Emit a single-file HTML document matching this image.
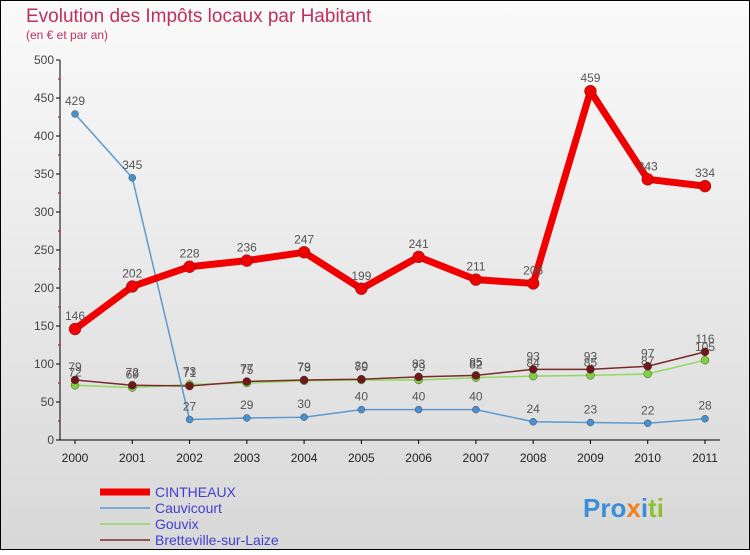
<!DOCTYPE html>
<html><head><meta charset="utf-8"><style>
body{margin:0}
#c{width:750px;height:550px;position:relative;font-family:"Liberation Sans",sans-serif;}
</style></head><body>
<div id="c">
<svg id="s" width="750" height="550" xmlns="http://www.w3.org/2000/svg">
<defs><linearGradient id="bg" x1="0" y1="0" x2="0" y2="1"><stop offset="0" stop-color="#fafafa"/><stop offset="1" stop-color="#d8d8d8"/></linearGradient></defs>
<rect x="0.5" y="0.5" width="749" height="549" fill="url(#bg)" stroke="#000"/>
<text x="26" y="22" font-size="19" fill="#c0305a">Evolution des Impôts locaux par Habitant</text>
<text x="26" y="39" font-size="12" fill="#c0305a">(en € et par an)</text>
<g id="axes"></g><g id="series"></g><g id="legend"></g>
<text x="583" y="517" font-size="26" font-weight="bold" fill="#3a8fd8">Pro<tspan fill="#f08020">x</tspan><tspan fill="#3a8fd8">i</tspan><tspan fill="#90c030">ti</tspan></text>
</svg></div>
<script>
const years=["2000","2001","2002","2003","2004","2005","2006","2007","2008","2009","2010","2011"];
const yTicks=[0,50,100,150,200,250,300,350,400,450,500];
const cintheaux=[146,202,228,236,247,199,241,211,206,459,343,334];
const cauvicourt=[429,345,27,29,30,40,40,40,24,23,22,28];
const gouvix=[72,69,73,75,78,79,79,82,84,85,87,105];
const bretteville=[79,72,71,77,79,80,83,85,93,93,97,116];
const names=["CINTHEAUX","Cauvicourt","Gouvix","Bretteville-sur-Laize"];
const NS="http://www.w3.org/2000/svg";
const x=i=>75+i*(630/11), y=v=>440-v*0.76;
function mk(t,a,p){const e=document.createElementNS(NS,t);for(const k in a)e.setAttribute(k,a[k]);p.appendChild(e);return e;}
const ax=document.getElementById('axes');
const yl=mk('line',{x1:60,y1:60,x2:60,y2:440,stroke:'#000'},ax);


const xl=mk('line',{x1:60,y1:440,x2:720,y2:440,stroke:'#000'},ax);


yTicks.forEach(v=>{mk('line',{x1:56,y1:y(v),x2:60,y2:y(v),stroke:'#000'},ax);
const t=mk('text',{x:54,y:y(v)+4,'font-size':12,fill:'#444','text-anchor':'end'},ax);t.textContent=v;


if(v<500)mk('line',{x1:58,y1:y(v+25),x2:60,y2:y(v+25),stroke:'#c00'},ax);});
years.forEach((yr,i)=>{mk('line',{x1:x(i),y1:440,x2:x(i),y2:444,stroke:'#000'},ax);
const t=mk('text',{x:x(i),y:462,'font-size':12,fill:'#222','text-anchor':'middle'},ax);t.textContent=yr;

});
const se=document.getElementById('series');
function draw(d,col,w,r,dot,nm){const g=mk('g',{},se);


mk('polyline',{points:d.map((v,i)=>x(i)+','+y(v)).join(' '),fill:'none',stroke:col,'stroke-width':w,'stroke-linejoin':'round'},g);
d.forEach((v,i)=>{const c=mk('circle',{cx:x(i),cy:y(v),r:r,fill:dot,stroke:'#333','stroke-width':0.4},g);


const t=mk('text',{x:x(i),y:y(v)-9,'font-size':12,fill:'#555','text-anchor':'middle'},g);t.textContent=v;});}
draw(gouvix,'#90d860',1.5,4,'#80d040','series-gouvix');
draw(bretteville,'#7a2a2a',1.5,4,'#701818','series-bretteville');
draw(cauvicourt,'#5a9ad0',1.5,3.5,'#4a90d0','series-cauvicourt');
draw(cintheaux,'#f00000',7,6,'#f00000','series-cintheaux');
const lg=document.getElementById('legend');
const cols=['#f00000','#5a9ad0','#90d860','#7a2a2a'],ws=[7,1.5,1.5,1.5];
names.forEach((n,i)=>{const g=mk('g',{},lg);


mk('line',{x1:100,y1:492+i*16,x2:150,y2:492+i*16,stroke:cols[i],'stroke-width':ws[i]},g);
const t=mk('text',{x:155,y:497+i*16,'font-size':14,fill:'#4040d0'},g);t.textContent=n;});
</script></body></html>
